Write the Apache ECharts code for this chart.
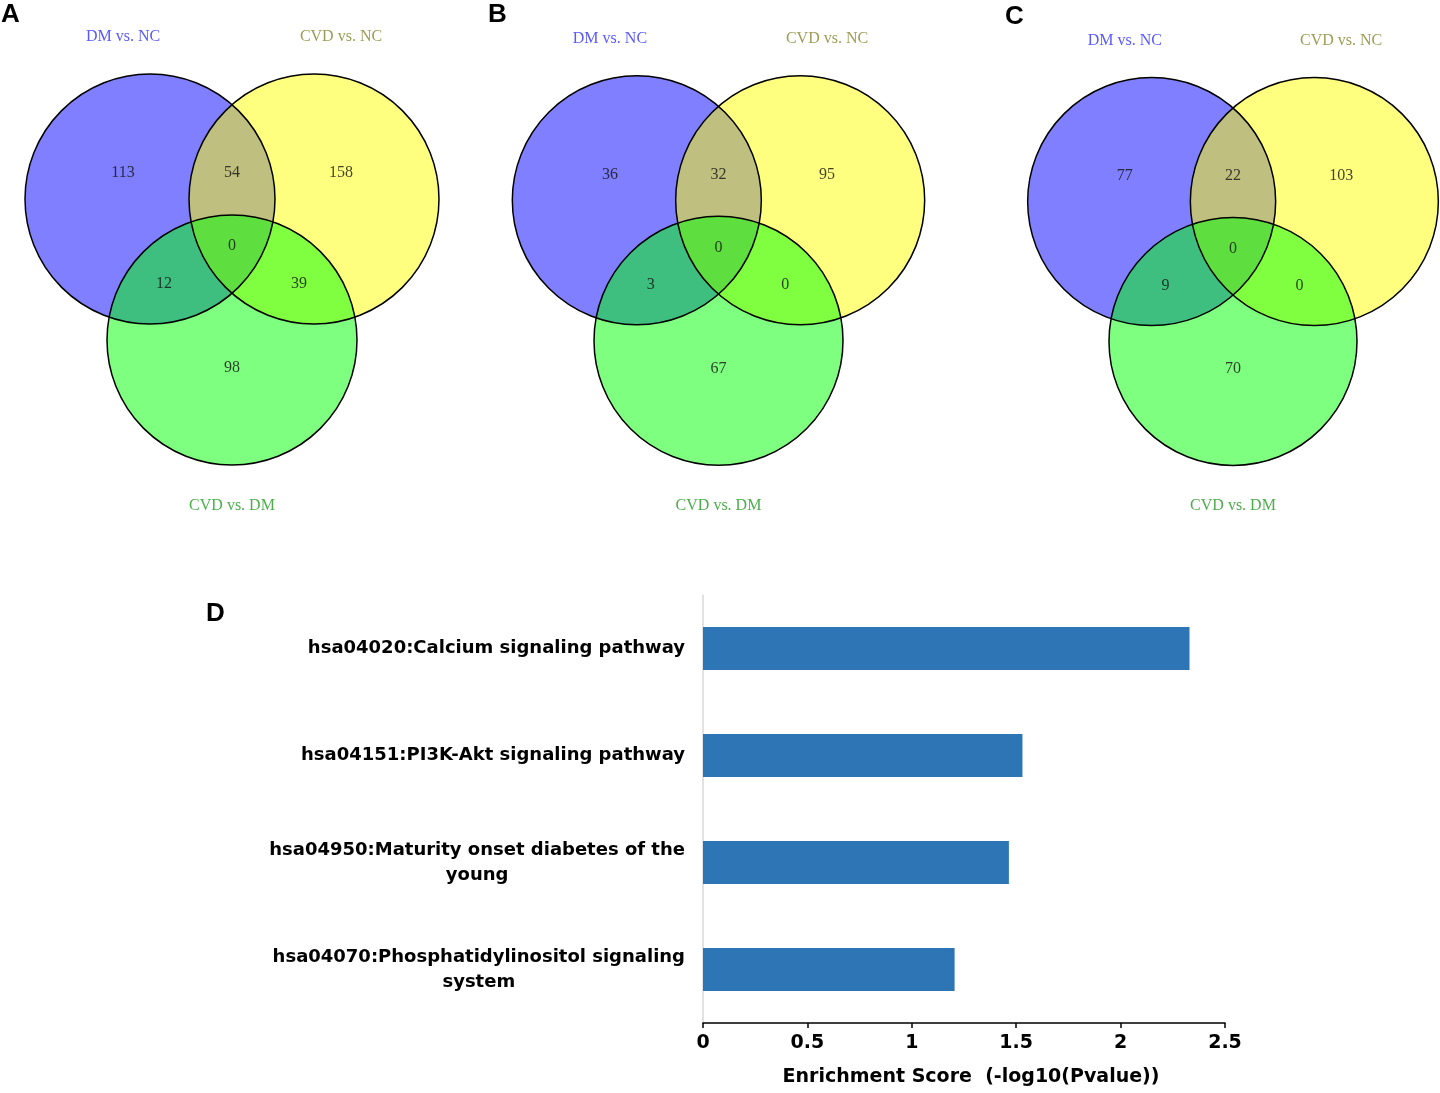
<!DOCTYPE html>
<html>
<head>
<meta charset="utf-8">
<script src="https://cdn.jsdelivr.net/npm/echarts@6/dist/echarts.min.js"></script>
<style>
html,body{margin:0;padding:0;background:#fff;}
#chart{width:1440px;height:1093px;}
</style>
</head>
<body>
<div id="chart"></div>
<script>
// ---------- DATA ----------
const panelLetters = ['A', 'B', 'C'];
const setNames = ['DM vs. NC', 'CVD vs. NC', 'CVD vs. DM'];
// region order: DM only, DM∩CVDvsNC, CVDvsNC only, all three, DM∩CVDvsDM, CVDvsNC∩CVDvsDM, CVDvsDM only
const regionNames = ['DM only', 'DM & CVD-NC', 'CVD-NC only', 'All', 'DM & CVD-DM', 'CVD-NC & CVD-DM', 'CVD-DM only'];
const countsA = [113, 54, 158, 0, 12, 39, 98];
const countsB = [36, 32, 95, 0, 3, 0, 67];
const countsC = [77, 22, 103, 0, 9, 0, 70];
const vennCounts = [countsA, countsB, countsC];

const pathways = [
  'hsa04020:Calcium signaling pathway',
  'hsa04151:PI3K-Akt signaling pathway',
  'hsa04950:Maturity onset diabetes of the\nyoung',
  'hsa04070:Phosphatidylinositol signaling\nsystem'
];
const enrichment = [2.33, 1.53, 1.465, 1.205];
const xAxisName = 'Enrichment Score  (-log10(Pvalue))';

// ---------- VENN LAYOUT (unit = circle radius, y up) ----------
const vennRadius = 1;
const circleCenters = [[-0.656, 0.568], [0.656, 0.568], [0, -0.56]];
const circleFills = ['rgba(0,0,255,0.5)', 'rgba(255,255,0,0.5)', 'rgba(0,255,0,0.5)'];
const regionPos = [[-0.872, 0.776], [0, 0.776], [0.872, 0.776], [0, 0.19], [-0.544, -0.112], [0.536, -0.112], [0, -0.784]];
const setLabelPos = [[-0.872, 1.865], [0.872, 1.865], [0, -1.885]];
const setLabelColors = ['#3030ff', '#85852a', '#1e9a1e'];
// panel centroids in page space
const panelGrids = [
  {cx: 232, cy: 270, r: 125},
  {cx: 718.5, cy: 271, r: 124.5},
  {cx: 1233, cy: 272, r: 124}
];

const serif = '"Liberation Serif", "DejaVu Serif", serif';
const sans = '"DejaVu Sans", sans-serif';

const grids = [], xAxes = [], yAxes = [], series = [];
panelGrids.forEach((g, i) => {
  const halfW = 1.5 * g.r, halfH = 2 * g.r;
  grids.push({left: g.cx - halfW, top: g.cy - halfH, width: 2 * halfW, height: 2 * halfH, containLabel: false});
  xAxes.push({type: 'value', gridIndex: i, min: -1.5, max: 1.5, show: false});
  yAxes.push({type: 'value', gridIndex: i, min: -2, max: 2, show: false});
  // fills
  series.push({
    type: 'custom', xAxisIndex: i, yAxisIndex: i, silent: true, clip: false, z: 1,
    data: circleCenters.map(c => [c[0], c[1]]),
    renderItem: function (params, api) {
      const p = api.coord([api.value(0), api.value(1)]);
      const r = api.size([vennRadius, 0])[0];
      return {type: 'circle', shape: {cx: p[0], cy: p[1], r: r},
        style: {fill: circleFills[params.dataIndex], stroke: null}};
    }
  });
  // outlines
  series.push({
    type: 'custom', xAxisIndex: i, yAxisIndex: i, silent: true, clip: false, z: 2,
    data: circleCenters.map(c => [c[0], c[1]]),
    renderItem: function (params, api) {
      const p = api.coord([api.value(0), api.value(1)]);
      const r = api.size([vennRadius, 0])[0];
      return {type: 'circle', shape: {cx: p[0], cy: p[1], r: r},
        style: {fill: null, stroke: '#000', lineWidth: 1.5}};
    }
  });
  // counts
  series.push({
    type: 'scatter', xAxisIndex: i, yAxisIndex: i, silent: true, symbolSize: 0, z: 3,
    data: vennCounts[i].map((v, k) => ({name: regionNames[k], value: [regionPos[k][0], regionPos[k][1], v]})),
    label: {show: true, position: 'inside', formatter: p => String(p.value[2]),
      fontFamily: serif, fontSize: 16, color: '#111'}
  });
  // set names
  series.push({
    type: 'scatter', xAxisIndex: i, yAxisIndex: i, silent: true, symbolSize: 0, z: 3,
    data: setNames.map((n, k) => ({name: n, value: [setLabelPos[k][0], setLabelPos[k][1]],
      label: {color: setLabelColors[k]}})),
    label: {show: true, position: 'inside', formatter: p => p.name,
      fontFamily: serif, fontSize: 16}
  });
});

// bar chart grid
grids.push({left: 703, top: 595, width: 522, height: 428, containLabel: false});
xAxes.push({
  type: 'value', gridIndex: 3, min: 0, max: 2.5, interval: 0.5,
  axisLine: {show: true, lineStyle: {color: '#000', width: 1.5}},
  axisTick: {show: true, length: 5, lineStyle: {color: '#000', width: 1.5}},
  splitLine: {show: false},
  axisLabel: {fontFamily: sans, fontSize: 19, fontWeight: 'bold', color: '#000', margin: 11},
  name: xAxisName, nameLocation: 'middle', nameGap: 45,
  nameTextStyle: {fontFamily: sans, fontSize: 19, fontWeight: 'bold', color: '#000', padding: [0, 0, 0, 14]}
});
yAxes.push({
  type: 'category', gridIndex: 3, inverse: true, data: pathways,
  axisLine: {show: true, lineStyle: {color: '#d9d9d9', width: 1.5}},
  axisTick: {show: false},
  axisLabel: {
    margin: 18, align: 'right',
    formatter: v => v.split('\n').map(l => '{c|' + l + '}').join('\n'),
    rich: {c: {align: 'center', fontFamily: sans, fontSize: 18, fontWeight: 'bold', color: '#000', lineHeight: 25}}
  }
});
series.push({
  type: 'bar', xAxisIndex: 3, yAxisIndex: 3, data: enrichment, barWidth: '40%',
  itemStyle: {color: '#2e75b6'}, silent: true
});

const letterStyle = {fontFamily: '"Liberation Sans", Arial, sans-serif', fontSize: 26, fontWeight: 'bold', color: '#000'};
const titles = [
  {text: 'A', left: 1, top: 2},
  {text: 'B', left: 488, top: 2},
  {text: 'C', left: 1005, top: 4},
  {text: 'D', left: 206, top: 601}
].map(t => Object.assign({padding: 0, textStyle: letterStyle}, t));

const chart = echarts.init(document.getElementById('chart'), null, {renderer: 'canvas'});
chart.setOption({
  animation: false,
  backgroundColor: '#fff',
  title: titles,
  grid: grids,
  xAxis: xAxes,
  yAxis: yAxes,
  series: series
});
</script>
</body>
</html>
